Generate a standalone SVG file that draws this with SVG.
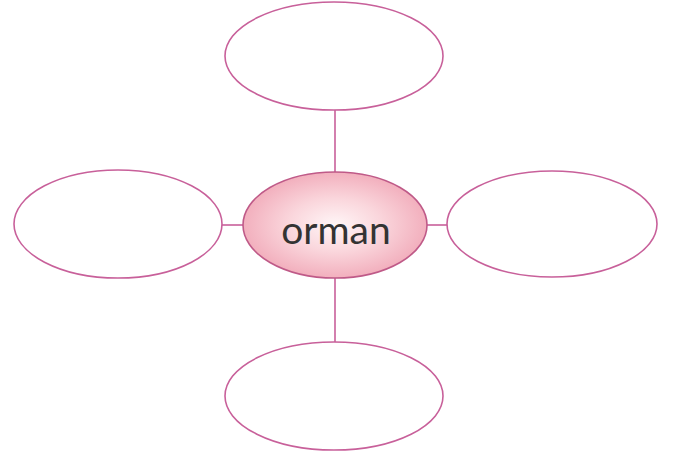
<svg xmlns="http://www.w3.org/2000/svg" width="681" height="456" viewBox="0 0 681 456">
<style>
.n{fill:#fff;stroke:#c8609a;stroke-width:1.6}
.c{stroke:#c8609a;stroke-width:1.6;fill:none}
.t{font-family:Lato,"DejaVu Sans",sans-serif;font-size:39px;fill:#333;text-anchor:middle}
</style>
<defs>
<radialGradient id="g" cx="50%" cy="50%" r="50%">
<stop offset="0" stop-color="#fff6f7"/>
<stop offset="0.5" stop-color="#fad6dc"/>
<stop offset="1" stop-color="#f2afbd"/>
</radialGradient>
</defs>
<rect width="681" height="456" fill="#fff"/>
<g id="connectors">
<line class="c" x1="335" y1="110" x2="335" y2="172"/>
<line class="c" x1="335" y1="278" x2="335" y2="342"/>
<line class="c" x1="222" y1="225" x2="243" y2="225"/>
<line class="c" x1="427" y1="225" x2="447" y2="225"/>
</g>
<g id="top"><ellipse class="n" cx="334" cy="56" rx="109" ry="54"/></g>
<g id="left"><ellipse class="n" cx="118" cy="224" rx="104" ry="54"/></g>
<g id="right"><ellipse class="n" cx="552" cy="224" rx="105" ry="53"/></g>
<g id="bottom"><ellipse class="n" cx="334" cy="396" rx="109" ry="54"/></g>
<g id="center">
<ellipse cx="335" cy="225" rx="92" ry="53" fill="url(#g)" stroke="#bf5a88" stroke-width="1.6"/>
<text class="t" x="336" y="244">orman</text>
</g>
</svg>
